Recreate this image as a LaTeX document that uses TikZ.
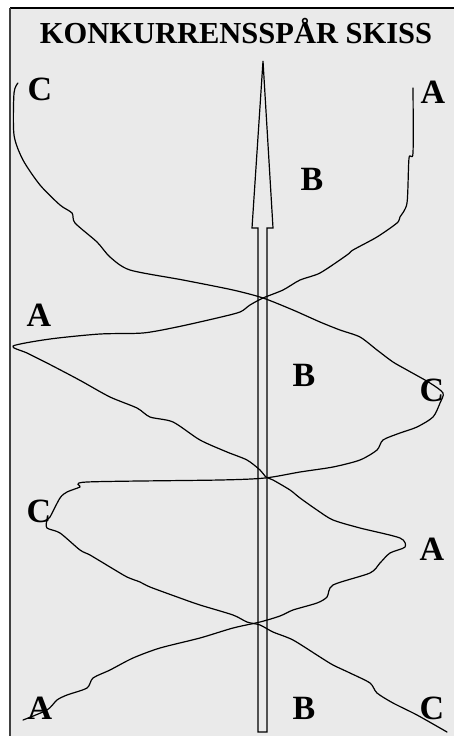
\documentclass[tikz,border=0pt]{standalone}
\usepackage{fontspec}
\setmainfont{Liberation Serif}
\definecolor{sketchgray}{rgb}{0.918, 0.918, 0.918}
\tikzset{
  track/.style={line width=1.2pt, line join=round, line cap=round},
  letter/.style={font=\bfseries\fontsize{34}{34}\selectfont, inner sep=0pt}
}

\begin{document}
\begin{tikzpicture}[x=1pt, y=-1pt]
  % Coordinates
  \coordinate (O) at (0, 0);
  \coordinate (E) at (454, 736);
  \coordinate (F) at (10, 8);
  \coordinate (G) at (10, 736);
  \coordinate (H) at (454, 8);
  \coordinate (P) at (258, 732);
  \coordinate (Q) at (258, 228);
  \coordinate (R) at (252, 228);
  \coordinate (S) at (263, 61);
  \coordinate (T) at (273, 228);
  \coordinate (U) at (267, 228);
  \coordinate (V) at (267, 732);

  % Frame
  \useasboundingbox (O) rectangle (E);
  \fill[white] (O) rectangle (E);
  \fill[sketchgray] (F) rectangle (E);
  \draw[line width=2pt] (F) -- (H);
  \draw[line width=1.2pt, black!75] (F) -- (G);

  % Title and letters
  \node[font=\bfseries\fontsize{30.5}{30.5}\selectfont, inner sep=0pt] (title) at (236, 31) {KONKURRENSSPÅR SKISS};
  \node[letter] (c1) at (40, 89) {C};
  \node[letter] (a1) at (433, 92) {A};
  \node[letter] (b1) at (312, 179) {B};
  \node[letter] (a2) at (39, 315) {A};
  \node[letter] (b2) at (304, 375) {B};
  \node[letter] (c2) at (432, 390) {C};
  \node[letter] (c3) at (39, 511) {C};
  \node[letter] (a3) at (432, 549) {A};
  \node[letter] (a4) at (40, 708) {A};
  \node[letter] (b3) at (304, 708) {B};
  \node[letter] (c4) at (432, 708) {C};

  % Arrow
  \filldraw[line width=1.2pt, fill=sketchgray, line join=miter] (P) -- (Q) -- (R) -- (S) -- (T) -- (U) -- (V) -- cycle;

  % Tracks
  \draw[track] plot[smooth, tension=0.45] coordinates {
    (18,83) (14,93) (14,135) (23,160) (40,185) (60,205) (72,213) (75,223)
    (97,242) (110,257) (130,270) (183,280) (233,290) (263,298) (293,310)
    (320,322) (340,330) (360,337) (377,350) (393,362) (407,370) (430,383)
    (443,393) (440,403) (433,417) (417,427) (400,433) (383,440) (377,450)
    (360,460) (333,467) (300,472) (265,478) (220,480) (87,482) (80,487)
    (67,492) (60,498) (50,517) (47,520) (47,528) (60,533) (80,550) (90,555)
    (110,567) (127,577) (140,582) (150,587) (180,598) (200,605) (233,615)
    (247,622) (260,625) (273,632) (293,640) (320,657) (333,665) (350,673)
    (370,683) (377,693) (393,703) (417,715) (447,732)};
  \draw[track] plot[smooth, tension=0.45] coordinates {
    (413,88) (413,153) (409,158) (407,203) (400,217) (397,223) (377,237)
    (353,250) (347,255) (320,273) (300,280) (283,290) (263,298) (250,305)
    (240,312) (217,318) (177,327) (143,333) (100,334) (50,339) (13,346)
    (27,353) (47,363) (70,375) (83,382) (110,397) (137,408) (150,417)
    (173,422) (200,440) (227,452) (247,460) (260,470) (266,477) (273,480)
    (290,490) (300,498) (317,510) (333,520) (360,528) (400,538) (405,547)
    (390,553) (380,563) (370,573) (333,585) (327,597) (317,603) (293,610)
    (280,616) (260,622) (233,628) (200,638) (160,648) (133,658) (110,670)
    (93,678) (87,688) (67,695) (57,700) (47,710) (23,720)};
\end{tikzpicture}
\end{document}
